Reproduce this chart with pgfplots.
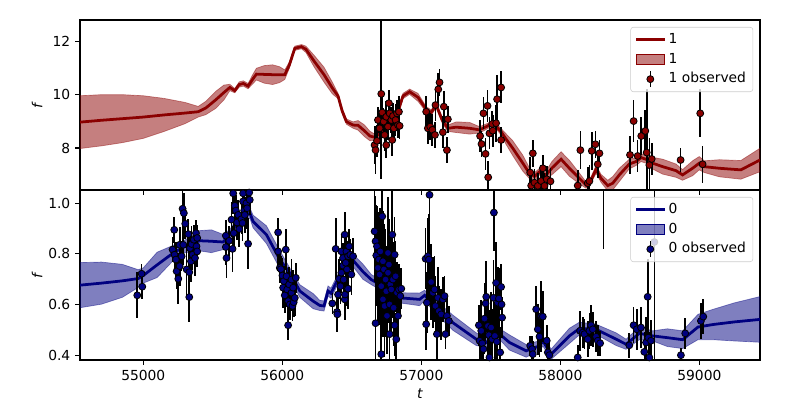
\documentclass[border=0pt]{standalone}
\usepackage{fontspec}
\setmainfont{DejaVu Sans}
\usepackage{pgfplots}
\pgfplotsset{compat=1.18}
\usepackage{pgfplotstable}
\definecolor{mydarkred}{HTML}{8B0000}
\definecolor{mynavy}{HTML}{000080}

% top model: x, mean, half width
\pgfplotstableread{
x m w
54545 8.97 0.99
54700 9.04 0.96
54850 9.10 0.90
55000 9.16 0.80
55150 9.24 0.62
55300 9.31 0.40
55395 9.36 0.20
55450 9.50 0.25
55520 9.80 0.32
55580 10.08 0.28
55623 10.27 0.12
55658 10.15 0.08
55690 10.38 0.10
55720 10.42 0.10
55754 10.32 0.10
55790 10.60 0.18
55814 10.77 0.22
55870 10.76 0.33
55930 10.75 0.37
55980 10.75 0.30
56018 10.75 0.18
56050 11.10 0.12
56090 11.74 0.08
56138 11.80 0.08
56170 11.70 0.12
56230 11.25 0.22
56300 10.75 0.28
56360 10.25 0.22
56401 9.95 0.10
56430 9.40 0.10
56461 8.99 0.10
56509 8.86 0.12
56545 8.85 0.18
56590 8.65 0.22
56630 8.45 0.18
56665 8.40 0.12
56700 8.55 0.10
56760 8.85 0.10
56832 9.36 0.10
56868 9.95 0.10
56916 10.11 0.10
56976 9.90 0.15
57035 9.45 0.10
57071 9.33 0.10
57107 9.61 0.10
57150 9.05 0.12
57191 8.74 0.12
57251 8.78 0.20
57347 8.74 0.22
57419 8.68 0.12
57479 8.83 0.10
57514 8.95 0.10
57540 8.80 0.10
57574 8.61 0.12
57610 8.33 0.20
57658 7.99 0.28
57730 7.43 0.30
57778 7.05 0.20
57814 6.93 0.15
57850 7.11 0.12
57898 6.99 0.15
57940 7.25 0.25
58005 7.58 0.28
58065 7.24 0.30
58137 6.86 0.20
58185 6.61 0.12
58221 6.80 0.12
58257 7.20 0.15
58293 6.86 0.15
58341 6.59 0.20
58377 6.68 0.25
58424 6.99 0.25
58496 7.40 0.18
58544 7.49 0.15
58580 7.64 0.15
58616 7.58 0.15
58664 7.43 0.22
58736 7.30 0.28
58832 7.15 0.25
58879 6.99 0.20
58951 7.24 0.28
58999 7.43 0.25
59035 7.30 0.22
59143 7.24 0.32
59298 7.18 0.35
59436 7.55 0.44
}\topmean

\pgfplotstableread{
x y e
56664 8.11 0.7
56671 7.92 0.9
56681 8.27 0.6
56712 10.03 3.2
56688 9.05 0.5
56700 8.74 0.6
56719 9.33 0.6
56729 8.99 0.5
56736 8.49 0.6
56748 8.11 0.5
56748 9.17 0.6
56760 8.80 0.5
56767 9.68 0.5
56772 9.30 0.6
56784 9.05 0.5
56791 8.30 0.6
56796 9.20 0.5
56803 8.74 0.5
56815 9.05 0.6
56825 9.30 0.5
56832 8.86 0.5
56839 9.36 0.6
56844 8.83 0.5
57035 9.36 0.6
57047 8.74 0.6
57064 8.80 0.5
57079 8.68 0.6
57098 8.49 0.5
57102 9.61 0.6
57122 10.20 0.6
57131 10.46 0.5
57155 8.59 0.6
57162 9.55 0.6
57184 7.92 0.5
57191 9.08 0.5
57423 8.45 0.6
57433 8.15 0.5
57447 9.30 0.6
57462 7.78 0.6
57476 9.58 0.6
57481 6.90 0.6
57490 8.55 0.6
57510 8.90 0.5
57514 8.65 0.6
57538 8.93 0.7
57545 9.83 0.9
57574 10.27 0.6
57574 8.30 0.5
57783 7.08 0.6
57802 7.80 0.5
57790 6.59 0.6
57814 6.70 0.5
57838 6.58 0.5
57862 6.76 0.6
57874 7.24 0.5
57886 6.58 0.5
57902 6.83 0.5
57929 6.75 0.5
58125 6.59 0.6
58144 7.92 0.7
58197 6.68 0.6
58209 6.76 0.6
58226 7.89 0.7
58252 8.14 0.5
58269 7.39 0.5
58281 7.80 0.5
58501 7.74 0.7
58527 9.01 0.8
58556 7.70 0.6
58582 8.45 0.7
58611 8.64 0.8
58621 7.83 2.4
58640 7.36 1.0
58657 7.59 0.6
58865 7.55 0.45
59006 9.30 0.9
59023 7.39 0.7
}\topobs

\pgfplotstableread{
x m w
54545 0.677 0.089
54700 0.685 0.083
54850 0.694 0.065
54964 0.703 0.035
55000 0.715 0.030
55100 0.757 0.050
55216 0.804 0.030
55300 0.830 0.025
55407 0.852 0.040
55490 0.850 0.045
55575 0.847 0.030
55623 0.876 0.020
55695 0.941 0.020
55767 0.961 0.020
55790 0.928 0.025
55886 0.876 0.035
55982 0.778 0.035
56054 0.725 0.020
56126 0.654 0.025
56222 0.614 0.030
56270 0.597 0.020
56300 0.595 0.020
56329 0.654 0.020
56350 0.645 0.020
56400 0.700 0.020
56450 0.760 0.020
56490 0.785 0.020
56509 0.775 0.025
56580 0.730 0.030
56640 0.699 0.020
56700 0.680 0.020
56780 0.650 0.020
56844 0.627 0.020
56988 0.621 0.025
57024 0.637 0.020
57084 0.601 0.025
57227 0.529 0.030
57395 0.464 0.025
57467 0.451 0.020
57551 0.490 0.020
57634 0.451 0.030
57754 0.418 0.025
57850 0.438 0.020
57874 0.457 0.020
57934 0.405 0.020
58065 0.477 0.030
58137 0.506 0.025
58257 0.503 0.020
58401 0.464 0.025
58473 0.444 0.020
58568 0.487 0.025
58664 0.477 0.020
58770 0.470 0.035
58880 0.462 0.035
58990 0.512 0.050
59100 0.522 0.060
59250 0.532 0.075
59436 0.542 0.090
}\botmean

\pgfplotstableread{
x y e
54957 0.637 0.09
54988 0.722 0.04
54993 0.671 0.05
55223 0.895 0.05
55211 0.817 0.05
55225 0.797 0.06
55235 0.778 0.07
55240 0.732 0.07
55252 0.702 0.10
55262 0.836 0.07
55262 0.752 0.08
55276 0.791 0.06
55283 0.978 0.10
55292 0.961 0.08
55302 0.919 0.06
55288 0.836 0.08
55312 0.739 0.10
55324 0.878 0.06
55331 0.728 0.10
55331 0.630 0.10
55336 0.823 0.06
55343 0.771 0.08
55348 0.839 0.07
55355 0.797 0.06
55364 0.856 0.06
55372 0.784 0.07
55379 0.882 0.05
55383 0.830 0.06
55388 0.863 0.05
55388 0.810 0.06
55594 0.872 0.06
55594 0.827 0.07
55599 0.784 0.08
55618 0.852 0.06
55635 0.935 0.07
55642 0.820 0.09
55647 1.039 0.08
55651 0.882 0.06
55659 0.990 0.07
55666 0.971 0.06
55675 0.924 0.07
55683 0.954 0.06
55690 0.898 0.07
55706 0.937 0.06
55714 0.922 0.07
55718 1.039 0.08
55718 1.007 0.07
55726 0.971 0.06
55730 0.954 0.07
55742 1.000 0.06
55747 0.980 0.08
55754 0.840 0.10
55762 1.042 0.07
55766 1.013 0.06
55970 0.885 0.055
55970 0.810 0.06
55982 0.745 0.06
55990 0.740 0.05
56001 0.715 0.07
56011 0.693 0.06
56006 0.667 0.08
56018 0.637 0.07
56025 0.817 0.08
56030 0.712 0.06
56035 0.660 0.07
56042 0.614 0.08
56042 0.519 0.06
56049 0.680 0.07
56054 0.601 0.06
56066 0.699 0.08
56066 0.647 0.07
56073 0.595 0.06
56078 0.667 0.07
56082 0.610 0.06
56090 0.627 0.07
56097 0.706 0.06
56360 0.605 0.04
56384 0.820 0.12
56394 0.571 0.08
56396 0.562 0.06
56401 0.640 0.07
56408 0.702 0.08
56418 0.673 0.07
56425 0.726 0.08
56425 0.810 0.07
56437 0.754 0.08
56437 0.784 0.06
56441 0.699 0.07
56449 0.876 0.09
56449 0.621 0.08
56451 0.640 0.07
56456 0.765 0.08
56461 0.810 0.07
56465 0.739 0.08
56466 0.663 0.07
56473 0.791 0.06
56473 0.663 0.08
56480 0.830 0.07
56489 0.797 0.06
56497 0.719 0.08
56509 0.791 0.07
56664 0.889 0.20
56671 0.850 0.18
56671 0.527 0.15
56676 0.794 0.20
56681 0.830 0.16
56688 0.745 0.22
56695 0.778 0.18
56700 0.719 0.20
56705 0.810 0.17
56712 0.673 0.20
56712 0.405 0.12
56719 0.948 0.20
56724 0.771 0.20
56724 0.621 0.15
56731 0.739 0.18
56736 0.595 0.20
56743 0.699 0.20
56748 0.653 0.18
56753 0.556 0.15
56760 0.804 0.22
56760 0.726 0.20
56767 0.758 0.18
56772 0.601 0.20
56772 0.484 0.12
56777 0.680 0.20
56784 0.660 0.18
56791 0.876 0.20
56796 0.699 0.15
56801 0.588 0.15
56808 0.797 0.15
56808 0.519 0.12
56815 0.712 0.14
56820 0.464 0.10
56825 0.647 0.12
56832 0.556 0.10
56839 0.660 0.10
56849 0.634 0.08
56856 0.663 0.08
57031 0.781 0.12
57035 0.523 0.10
57040 0.608 0.12
57047 0.791 0.15
57055 0.778 0.18
57059 1.033 0.14
57071 0.689 0.15
57083 0.647 0.14
57095 0.660 0.13
57102 0.595 0.12
57112 0.484 0.10
57119 0.627 0.12
57126 0.575 0.10
57143 0.562 0.10
57155 0.621 0.09
57167 0.634 0.08
57174 0.484 0.06
57184 0.556 0.07
57198 0.536 0.06
57414 0.519 0.08
57419 0.458 0.10
57431 0.497 0.12
57438 0.448 0.10
57447 0.425 0.12
57455 0.545 0.14
57462 0.605 0.15
57467 0.631 0.14
57479 0.516 0.12
57486 0.480 0.10
57490 0.392 0.12
57502 0.510 0.14
57510 0.464 0.12
57519 0.627 0.15
57522 0.963 0.15
57529 0.477 0.13
57538 0.686 0.16
57543 0.454 0.12
57550 0.608 0.14
57558 0.624 0.12
57567 0.412 0.10
57574 0.670 0.09
57577 0.601 0.10
57581 0.549 0.08
57783 0.438 0.04
57797 0.425 0.05
57802 0.405 0.05
57826 0.582 0.09
57838 0.503 0.10
57850 0.474 0.08
57862 0.555 0.14
57874 0.553 0.10
57902 0.458 0.06
57910 0.412 0.06
57921 0.401 0.05
58125 0.392 0.05
58142 0.497 0.08
58161 0.490 0.06
58173 0.484 0.06
58197 0.464 0.07
58209 0.497 0.07
58221 0.519 0.08
58233 0.503 0.07
58257 0.474 0.06
58269 0.458 0.06
58286 0.448 0.05
58496 0.440 0.05
58527 0.519 0.07
58549 0.503 0.08
58580 0.510 0.08
58604 0.414 0.08
58616 0.451 0.10
58628 0.631 0.15
58633 0.470 0.12
58640 0.392 0.10
58652 0.458 0.08
58676 0.847 0.50
58867 0.401 0.03
58898 0.487 0.06
59011 0.536 0.07
59028 0.553 0.07
}\botobs

\pgfplotsset{
  panel/.style={
    scale only axis, width=6.8in, height=1.7in,
    xmin=54545, xmax=59436,
    xtick={55000,56000,57000,58000,59000},
    scaled x ticks=false, scaled y ticks=false,
    tick align=outside, tick pos=left,
    major tick length=3.5pt,
    every tick/.style={black, line width=0.8pt},
    axis line style={line width=0.8pt},
    /pgf/number format/assume math mode=true,
    /pgf/number format/1000 sep={},
    tick label style={font=\fontsize{10}{12}\selectfont},
    label style={font=\fontsize{10}{12}\selectfont},
    ylabel style={at={(axis description cs:-0.063,0.5)}, anchor=center, rotate=0},
    legend style={at={(0.99,0.959)}, anchor=north east, draw=black!20,
      rounded corners=2pt, fill=white, fill opacity=0.8, text opacity=1,
      font=\fontsize{10}{12}\selectfont, inner xsep=3pt, inner ysep=2pt,
      row sep=0pt, cells={anchor=west},
      nodes={inner ysep=2.2pt, text height=7.5pt, text depth=2.3pt}},
  },
  obs/.style={only marks, mark=*, mark size=2.5pt,
    mark options={draw=black, line width=0.6pt, fill=#1},
    error bars/y dir=both, error bars/y explicit,
    error bars/error bar style={black, line width=1.2pt},
    error bars/error mark=none},
}

\begin{document}
\begin{tikzpicture}
\useasboundingbox (-0.8in,-2.1in) rectangle (7.2in,1.9in);
\begin{axis}[panel, at={(0,0)}, anchor=south west,
  ymin=6.425, ymax=12.8, ytick={8,10,12}, xticklabels={},
  ylabel={\textit{f}}]
\addplot[draw=none, stack plots=y, forget plot]
  table[x=x, y expr=\thisrow{m}-\thisrow{w}] {\topmean};
\addplot[fill=mydarkred, fill opacity=0.5, draw=none, stack plots=y, forget plot]
  table[x=x, y expr=2*\thisrow{w}] {\topmean} \closedcycle;
\addplot[draw=mydarkred, draw opacity=0.45, line width=0.5pt, forget plot]
  table[x=x, y expr=\thisrow{m}+\thisrow{w}] {\topmean};
\addplot[draw=mydarkred, draw opacity=0.45, line width=0.5pt, forget plot]
  table[x=x, y expr=\thisrow{m}-\thisrow{w}] {\topmean};
\addplot[mydarkred, line width=2pt, forget plot] table[x=x, y=m] {\topmean};
\addplot[forget plot, obs=mydarkred] table[x=x, y=y, y error=e] {\topobs};
\addlegendimage{legend image code/.code={\draw[mydarkred, line width=2pt, sharp corners] (0cm,0cm) -- (0.72cm,0cm);}}
\addlegendentry{1}
\addlegendimage{legend image code/.code={\fill[mydarkred, fill opacity=0.5, sharp corners] (0cm,-0.12cm) rectangle (0.72cm,0.12cm);}}
\addlegendentry{1}
\addlegendimage{legend image code/.code={\draw[black, line width=1.2pt, draw opacity=1] (0.36cm,-0.2cm) -- (0.36cm,0.2cm);
  \draw[black, line width=0.6pt, fill=mydarkred, fill opacity=1] (0.36cm,0cm) circle (2.5pt);}}
\addlegendentry{1 observed}
\end{axis}

\begin{axis}[panel, at={(0,-1.7in)}, anchor=south west,
  ymin=0.382, ymax=1.052, ytick={0.4,0.6,0.8,1.0},
  yticklabel style={/pgf/number format/.cd, fixed, fixed zerofill, precision=1},
  ylabel={\textit{f}}, xlabel={\textit{t}},
  xlabel style={at={(axis description cs:0.5,-0.195)}, anchor=center}]
\addplot[draw=none, stack plots=y, forget plot]
  table[x=x, y expr=\thisrow{m}-\thisrow{w}] {\botmean};
\addplot[fill=mynavy, fill opacity=0.5, draw=none, stack plots=y, forget plot]
  table[x=x, y expr=2*\thisrow{w}] {\botmean} \closedcycle;
\addplot[draw=mynavy, draw opacity=0.45, line width=0.5pt, forget plot]
  table[x=x, y expr=\thisrow{m}+\thisrow{w}] {\botmean};
\addplot[draw=mynavy, draw opacity=0.45, line width=0.5pt, forget plot]
  table[x=x, y expr=\thisrow{m}-\thisrow{w}] {\botmean};
\addplot[mynavy, line width=2pt, forget plot] table[x=x, y=m] {\botmean};
\addplot[forget plot, obs=mynavy] table[x=x, y=y, y error=e] {\botobs};
% an observation above the visible range: only its error bar shows
\addplot[forget plot, only marks, mark=none,
  error bars/y dir=both, error bars/y explicit,
  error bars/error bar style={black, line width=1.2pt},
  error bars/error mark=none] coordinates {(58310,1.25) +- (0,0.43)};
\addlegendimage{legend image code/.code={\draw[mynavy, line width=2pt, sharp corners] (0cm,0cm) -- (0.72cm,0cm);}}
\addlegendentry{0}
\addlegendimage{legend image code/.code={\fill[mynavy, fill opacity=0.5, sharp corners] (0cm,-0.12cm) rectangle (0.72cm,0.12cm);}}
\addlegendentry{0}
\addlegendimage{legend image code/.code={\draw[black, line width=1.2pt, draw opacity=1] (0.36cm,-0.2cm) -- (0.36cm,0.2cm);
  \draw[black, line width=0.6pt, fill=mynavy, fill opacity=1] (0.36cm,0cm) circle (2.5pt);}}
\addlegendentry{0 observed}
\end{axis}
\end{tikzpicture}
\end{document}
